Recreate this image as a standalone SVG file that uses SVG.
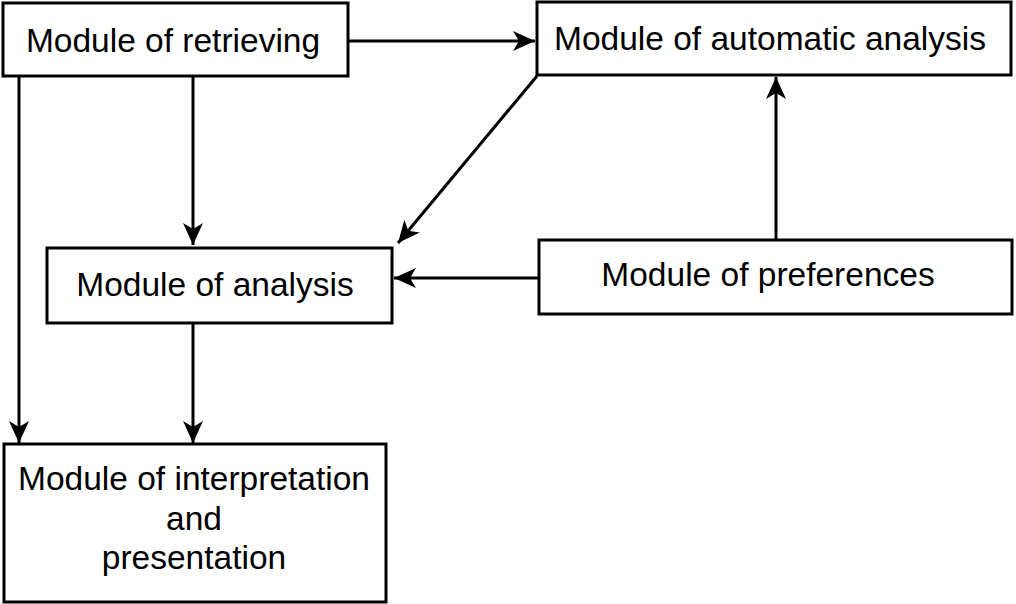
<svg xmlns="http://www.w3.org/2000/svg" width="1016" height="604" viewBox="0 0 1016 604">
<style>
.box{fill:#fff;stroke:#000;stroke-width:3}
.t{font-family:"Liberation Sans",Arial,sans-serif;font-size:33.5px;fill:#000;text-anchor:middle}
.c{fill:none;stroke:#000;stroke-width:3}
</style>
<defs>
<marker id="ah" markerUnits="userSpaceOnUse" markerWidth="24" markerHeight="20" refX="22" refY="10" orient="auto" viewBox="0 0 24 20">
<path d="M0,0 L22,10 L0,20 L6,10 Z" fill="#000"/>
</marker>
</defs>
<rect width="1016" height="604" fill="#fff"/>
<g id="connectors">
<line class="c" x1="348" y1="41" x2="535" y2="41" marker-end="url(#ah)"/>
<line class="c" x1="193" y1="76" x2="193" y2="245" marker-end="url(#ah)"/>
<line class="c" x1="19" y1="76" x2="19" y2="443" marker-end="url(#ah)"/>
<line class="c" x1="537" y1="76" x2="398" y2="243" marker-end="url(#ah)"/>
<line class="c" x1="539" y1="278" x2="394" y2="278" marker-end="url(#ah)"/>
<line class="c" x1="776" y1="240" x2="776" y2="77" marker-end="url(#ah)"/>
<line class="c" x1="193" y1="323" x2="193" y2="443" marker-end="url(#ah)"/>
</g>
<g id="retrieving">
<rect class="box" x="3" y="3" width="345" height="73"/>
<text class="t" x="173" y="52">Module of retrieving</text>
</g>
<g id="automatic">
<rect class="box" x="537" y="2" width="474" height="73"/>
<text class="t" x="770" y="50">Module of automatic analysis</text>
</g>
<g id="analysis">
<rect class="box" x="47" y="248" width="345" height="75"/>
<text class="t" x="215" y="296">Module of analysis</text>
</g>
<g id="preferences">
<rect class="box" x="539" y="240" width="473" height="74"/>
<text class="t" x="768" y="286">Module of preferences</text>
</g>
<g id="interpretation">
<rect class="box" x="4" y="444" width="382" height="158"/>
<text class="t" x="194" y="490">Module of interpretation</text>
<text class="t" x="194" y="530">and</text>
<text class="t" x="194" y="569">presentation</text>
</g>
</svg>
